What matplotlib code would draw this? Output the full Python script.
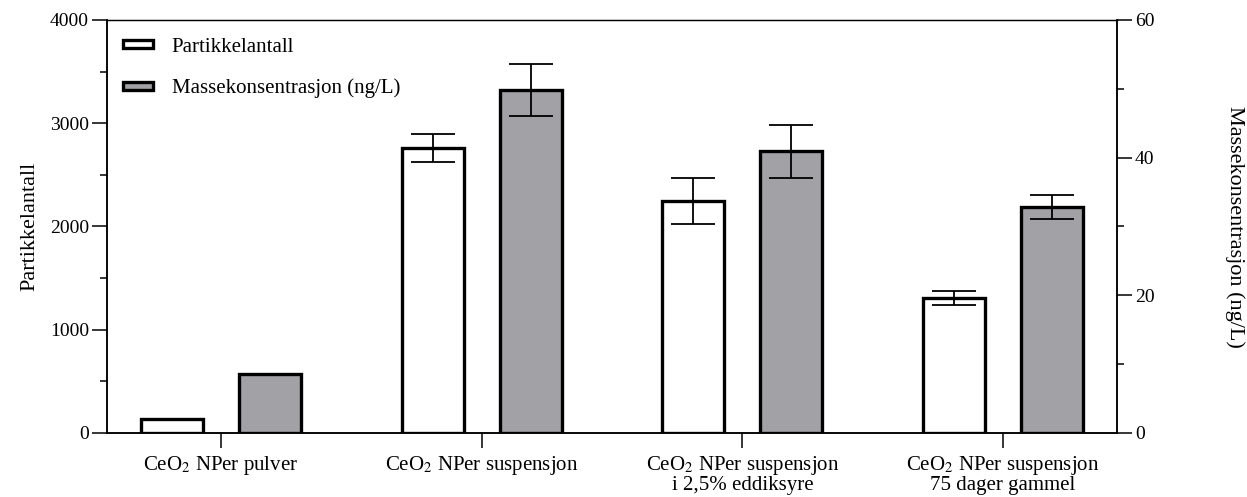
import numpy as np
import matplotlib
matplotlib.use("Agg")
import matplotlib.pyplot as plt
from matplotlib.patches import Patch
from matplotlib.ticker import MultipleLocator

plt.rcParams['font.family'] = ['Liberation Serif', 'DejaVu Serif']
plt.rcParams['mathtext.fontset'] = 'stix'
plt.rcParams['font.size'] = 14

labels = ['CeO$_2$ NPer pulver',
          'CeO$_2$ NPer suspensjon',
          'CeO$_2$ NPer suspensjon\ni 2,5% eddiksyre',
          'CeO$_2$ NPer suspensjon\n75 dager gammel']
partikler = [140, 2760, 2245, 1310]
partikler_err = [0, 135, 225, 68]
masse = [8.5, 49.8, 40.9, 32.8]
masse_err = [0, 3.8, 3.9, 1.75]

x = np.arange(len(labels))
w = 0.238
off = 0.188

fig = plt.figure(figsize=(12.47, 4.97), dpi=100)
ax = fig.add_axes([0.0858, 0.1288, 0.81, 0.831])
ax2 = ax.twinx()

ax.bar(x - off, partikler, w, color='white', edgecolor='black', linewidth=2.4, zorder=2)
ax.errorbar(x[1:] - off, partikler[1:], yerr=partikler_err[1:], fmt='none', ecolor='black',
            elinewidth=1.3, capsize=16, capthick=1.3, zorder=3)
ax2.bar(x + off, masse, w, color='#a2a1a6', edgecolor='black', linewidth=2.4, zorder=2)
ax2.errorbar(x[1:] + off, masse[1:], yerr=masse_err[1:], fmt='none', ecolor='black',
             elinewidth=1.3, capsize=16, capthick=1.3, zorder=3)

ax.set_xlim(-0.437, 3.437)
ax.set_ylim(0, 4000)
ax2.set_ylim(0, 60)
ax.set_xticks(x)
ax.set_xticklabels(labels, linespacing=0.95, fontsize=15)
ax.yaxis.set_major_locator(MultipleLocator(1000))
ax.yaxis.set_minor_locator(MultipleLocator(500))
ax2.yaxis.set_major_locator(MultipleLocator(20))
ax2.yaxis.set_minor_locator(MultipleLocator(10))

ax.tick_params(axis='both', which='major', length=11, width=1.1, direction='out', pad=2)
ax.tick_params(axis='y', which='minor', length=5, width=1.1, direction='out')
ax2.tick_params(axis='y', which='major', length=11, width=1.1, direction='out', pad=2)
ax2.tick_params(axis='y', which='minor', length=5, width=1.1, direction='out')
ax.tick_params(axis='x', pad=4)

for a in (ax, ax2):
    for s in a.spines.values():
        s.set_linewidth(1.1)
ax.spines['top'].set_linewidth(0.9)
ax2.spines['top'].set_linewidth(0.9)

ax.set_ylabel('Partikkelantall', fontsize=16, va='center')
ax.yaxis.set_label_coords(-0.076, 0.5)
ax2.set_ylabel('Massekonsentrasjon (ng/L)', rotation=270, fontsize=16, va='center')
ax2.yaxis.set_label_coords(1.117, 0.5)

handles = [Patch(facecolor='white', edgecolor='black', linewidth=2.4, label='Partikkelantall'),
           Patch(facecolor='#a2a1a6', edgecolor='black', linewidth=2.4,
                 label='Massekonsentrasjon (ng/L)')]
ax.legend(handles=handles, loc='upper left', frameon=False, fontsize=15,
          handlelength=1.45, handleheight=0.25, labelspacing=1.05, handletextpad=0.9,
          bbox_to_anchor=(0.0, 0.995), borderaxespad=0.35)

fig.savefig('out.png', dpi=100)
